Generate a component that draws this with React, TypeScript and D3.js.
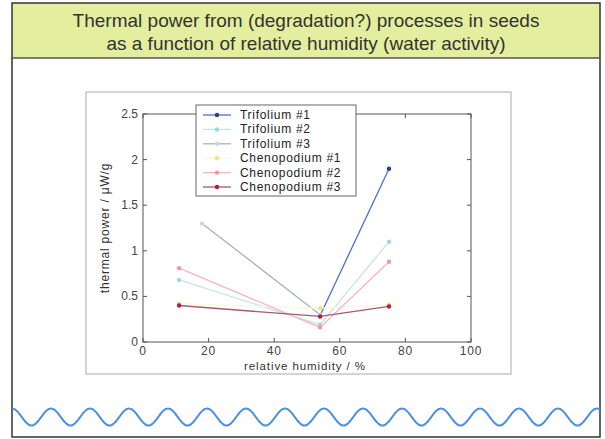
import React from "react";
import * as d3 from "d3";

const titleLines = [
  "Thermal power from (degradation?) processes in seeds",
  "as a function of relative humidity (water activity)",
];
const xTicks = [0, 20, 40, 60, 80, 100];
const yTicks = [0, 0.5, 1, 1.5, 2, 2.5];
const yTickLabels = ["0", "0.5", "1", "1.5", "2", "2.5"];
const seriesNames = [
  "Trifolium #1",
  "Trifolium #2",
  "Trifolium #3",
  "Chenopodium #1",
  "Chenopodium #2",
  "Chenopodium #3",
];
const seriesX = [
  [54, 75],
  [11, 54, 75],
  [18, 54],
  [11, 54, 75],
  [11, 54, 75],
  [11, 54, 75],
];
const seriesY = [
  [0.29, 1.9],
  [0.68, 0.19, 1.1],
  [1.3, 0.3],
  [0.42, 0.37, 0.41],
  [0.81, 0.16, 0.88],
  [0.4, 0.28, 0.39],
];
const lineColors = ["#4a72c8", "#c6e4ec", "#aab0bc", "#faf6e2", "#f5b6c2", "#a85a6c"];
const markerColors = ["#23408f", "#a8d4e2", "#d2d6dc", "#f2e27a", "#ef97a8", "#b01e45"];

const FONT = "Arial, 'Liberation Sans', sans-serif";

export default function App() {
  const W = 605;
  const H = 439;
  const x = d3.scaleLinear().domain([0, 100]).range([143, 471]);
  const y = d3.scaleLinear().domain([0, 2.5]).range([342, 114]);
  const line = d3
    .line<[number, number]>()
    .x((d) => x(d[0]))
    .y((d) => y(d[1]));

  // wave decoration
  const waveStart = 12;
  const waveEnd = 600;
  const period = 39;
  const wavePts: [number, number][] = [];
  for (let px = waveStart; px <= waveEnd; px += 1) {
    wavePts.push([px, 417 - 8.5 * Math.cos(((px - waveStart) / period) * 2 * Math.PI)]);
  }
  const wave = d3.line().curve(d3.curveBasis)(wavePts) || "";

  const legX = 196;
  const legY = 105;
  const legW = 160;
  const legH = 91;
  const rowH = 14.4;

  return (
    <svg
      width={W}
      height={H}
      style={{ position: "absolute", left: 0, top: 0, background: "#fff" }}
      fontFamily={FONT}
    >
      {/* outer frame */}
      <rect x={0} y={0} width={W} height={H} fill="#fff" />
      <rect x={12} y={3} width={588} height={55} fill="#e3ee9e" />
      <rect x={12} y={3} width={588} height={434} fill="none" stroke="#333" strokeWidth={1.5} />
      <line x1={12} x2={600} y1={58} y2={58} stroke="#555" strokeWidth={1.5} />
      {titleLines.map((t, i) => (
        <text
          key={i}
          x={306}
          y={27 + i * 23}
          textAnchor="middle"
          fontSize={19}
          fill="#333"
        >
          {t}
        </text>
      ))}

      {/* figure frame */}
      <rect x={86} y={92} width={425} height={282} fill="none" stroke="#aaa" strokeWidth={1} />

      {/* axes box */}
      <rect x={143} y={114} width={328} height={228} fill="none" stroke="#555" strokeWidth={1} />
      {xTicks.map((t) => (
        <g key={"x" + t}>
          <line x1={x(t)} x2={x(t)} y1={342} y2={338} stroke="#555" />
          <line x1={x(t)} x2={x(t)} y1={114} y2={118} stroke="#555" />
          <text x={x(t)} y={355} textAnchor="middle" fontSize={12} letterSpacing={0.8} fill="#444">
            {t}
          </text>
        </g>
      ))}
      {yTicks.map((t, i) => (
        <g key={"y" + t}>
          <line x1={143} x2={147} y1={y(t)} y2={y(t)} stroke="#555" />
          <line x1={471} x2={467} y1={y(t)} y2={y(t)} stroke="#555" />
          <text x={138} y={y(t) + 4} textAnchor="end" fontSize={12} fill="#444">
            {yTickLabels[i]}
          </text>
        </g>
      ))}
      <text x={305} y={370} textAnchor="middle" fontSize={11.5} letterSpacing={0.9} fill="#333">
        relative humidity / %
      </text>
      <text
        transform={`translate(109,228) rotate(-90)`}
        textAnchor="middle"
        fontSize={12}
        letterSpacing={0.8}
        fill="#333"
      >
        thermal power / μW/g
      </text>

      {/* series */}
      {seriesNames.map((name, si) => {
        const pts: [number, number][] = seriesX[si].map((v, j) => [v, seriesY[si][j]]);
        return (
          <g key={name}>
            <path d={line(pts) || ""} fill="none" stroke={lineColors[si]} strokeWidth={1.3} />
            {pts.map((p, j) => (
              <circle key={j} cx={x(p[0])} cy={y(p[1])} r={2.2} fill={markerColors[si]} />
            ))}
          </g>
        );
      })}

      {/* legend */}
      <rect x={legX} y={legY} width={legW} height={legH} fill="#fff" stroke="#666" strokeWidth={1} />
      {seriesNames.map((name, i) => {
        const cy = legY + 10 + i * rowH;
        return (
          <g key={"leg" + name}>
            <line x1={legX + 7} x2={legX + 35} y1={cy} y2={cy} stroke={lineColors[i]} strokeWidth={1.3} />
            <circle cx={legX + 21} cy={cy} r={2.2} fill={markerColors[i]} />
            <text x={legX + 44} y={cy + 4} fontSize={12} letterSpacing={0.7} fill="#222">
              {name}
            </text>
          </g>
        );
      })}

      {/* wave decoration */}
      <path d={wave} fill="none" stroke="#4a8fe0" strokeWidth={2} />
    </svg>
  );
}
